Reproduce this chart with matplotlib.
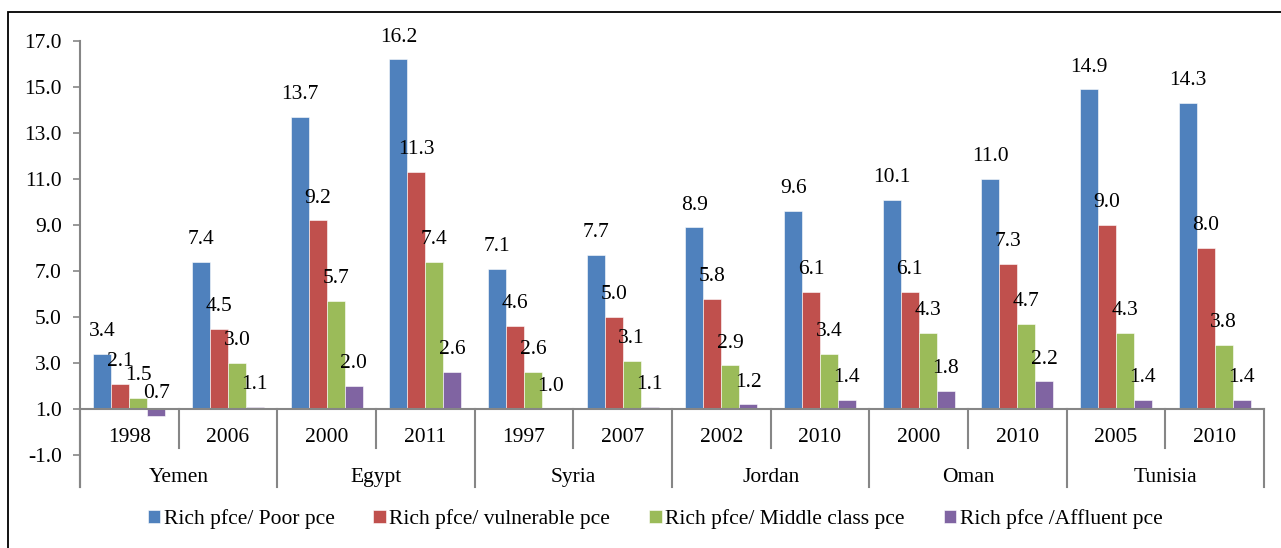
import matplotlib
matplotlib.use("Agg")
import matplotlib.pyplot as plt
from matplotlib.patches import Rectangle
import numpy as np

countries = ["Yemen", "Egypt", "Syria", "Jordan", "Oman", "Tunisia"]
years = ["1998", "2006", "2000", "2011", "1997", "2007", "2002", "2010", "2000", "2010", "2005", "2010"]
series_names = ["Rich pfce/ Poor pce", "Rich pfce/ vulnerable pce",
                "Rich pfce/ Middle class pce", "Rich pfce /Affluent pce"]
poor = [3.4, 7.4, 13.7, 16.2, 7.1, 7.7, 8.9, 9.6, 10.1, 11.0, 14.9, 14.3]
vulnerable = [2.1, 4.5, 9.2, 11.3, 4.6, 5.0, 5.8, 6.1, 6.1, 7.3, 9.0, 8.0]
middle = [1.5, 3.0, 5.7, 7.4, 2.6, 3.1, 2.9, 3.4, 4.3, 4.7, 4.3, 3.8]
affluent = [0.7, 1.1, 2.0, 2.6, 1.0, 1.1, 1.2, 1.4, 1.8, 2.2, 1.4, 1.4]
colors = ["#4F81BD", "#C0504D", "#9BBB59", "#8064A2"]
baseline = 1.0

plt.rcParams['font.family'] = ['Liberation Serif', 'DejaVu Serif']
FS = 15.5

W, H = 1281, 548
fig = plt.figure(figsize=(W / 100, H / 100), dpi=100)
# outer border
fig.patches.append(Rectangle((8 / W, -0.5), 2.0, 1.5 - 12 / H, transform=fig.transFigure,
                             fill=False, edgecolor="black", linewidth=1.3))

ax = fig.add_axes([80 / W, 1 - 455 / H, (1264 - 80) / W, (455 - 41) / H])
ax.set_ylim(-1, 17)
ax.set_xlim(-0.5, 11.5)

n = len(years)
x = np.arange(n)
w = 1 / 5.5
all_series = [poor, vulnerable, middle, affluent]
for i, (vals, c, name) in enumerate(zip(all_series, colors, series_names)):
    pos = x + (i - 1.5) * w
    heights = [v - baseline for v in vals]
    ax.bar(pos, heights, width=w, bottom=baseline, color=c, label=name,
           edgecolor="white", linewidth=0.4, zorder=2)
    for p, v in zip(pos, vals):
        ax.annotate(f"{v:.1f}", (p, v), xytext=(0, 16), textcoords="offset points",
                    ha="center", va="center", fontsize=FS, zorder=3)

for s in ax.spines.values():
    s.set_visible(False)
gray = "#868686"
ax.set_yticks(np.arange(-1, 18, 2))
ax.set_yticklabels([f"{v:.1f}" for v in np.arange(-1, 18, 2)], fontsize=FS)
ax.tick_params(axis="y", length=5, color=gray, width=1.2, pad=8)
ax.set_xticks([])

# axis lines
ax.plot([-0.5, 11.5], [baseline, baseline], color=gray, lw=1.5, clip_on=False, zorder=4)
ybot = -1 - 32 / 23
ymid = -1 + 7 / 23
ax.plot([-0.5, -0.5], [17, ybot], color=gray, lw=1.5, clip_on=False, zorder=4)
for k in range(n + 1):
    xb = k - 0.5
    yl = ybot if k % 2 == 0 else ymid
    ax.plot([xb, xb], [baseline, yl], color=gray, lw=1.5, clip_on=False, zorder=4)

for k, yr in enumerate(years):
    ax.text(k, -0.25, yr, ha="center", va="center", fontsize=FS)
for j, c in enumerate(countries):
    ax.text(2 * j + 0.5, -1.97, c, ha="center", va="center", fontsize=FS)

fig.legend(loc="center", bbox_to_anchor=(655 / W, 1 - 519 / H), ncol=4, frameon=False,
           fontsize=FS, handlelength=0.6, handleheight=0.6, handletextpad=0.15,
           columnspacing=1.8)

fig.savefig("out.png", dpi=100)
